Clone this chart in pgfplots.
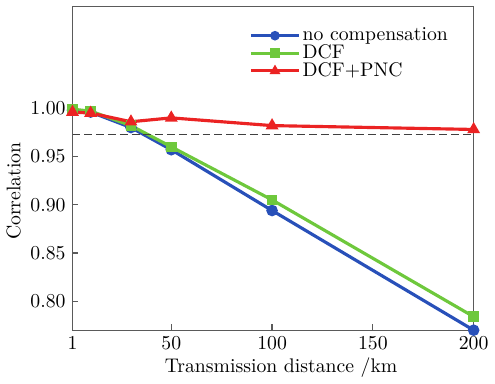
\documentclass[border=0pt]{standalone}
\usepackage{pgfplots}
\pgfplotsset{compat=1.18}
\definecolor{cblue}{RGB}{40,80,185}
\definecolor{cgreen}{RGB}{110,200,60}
\definecolor{cred}{RGB}{235,35,35}
\definecolor{axgray}{RGB}{90,90,90}
\begin{document}
\begin{tikzpicture}
\begin{axis}[
  scale only axis,
  width=203.5pt, height=164pt,
  xmin=1, xmax=200, ymin=0.77, ymax=1.105,
  xtick={1,50,100,150,200},
  ytick={0.80,0.85,0.90,0.95,1.00},
  yticklabel style={/pgf/number format/.cd,fixed,fixed zerofill,precision=2},
  xtick pos=bottom, ytick pos=left, tick align=inside,
  major tick length=3pt,
  axis line style={axgray, line width=0.6pt},
  every tick/.style={axgray, line width=0.6pt},
  xlabel={Transmission distance /km},
  ylabel={Correlation},
  xlabel style={at={(ticklabel cs:0.52)}, anchor=near ticklabel, yshift=3pt},
  ylabel style={at={(ticklabel cs:0.43)}, anchor=near ticklabel, yshift=-2pt},
  clip=false,
  legend cell align=left,
  legend style={at={(0.425,0.955)}, anchor=north west, draw=none, fill=none,
     row sep=-1.5pt, font=\normalsize, nodes={inner sep=1pt}},
  legend image code/.code={\draw[mark repeat=2,mark phase=2,mark size=1.6pt] plot coordinates {(0cm,0cm) (0.43cm,0cm) (0.86cm,0cm)};},
]
\addplot[cblue, line width=1.6pt, mark=*, mark size=2.1pt] coordinates {
 (1,0.998) (10,0.996) (30,0.980) (50,0.957) (100,0.894) (200,0.770)};
\addlegendentry{no compensation}
\addplot[cgreen, line width=1.6pt, mark=square*, mark size=1.9pt] coordinates {
 (1,0.999) (10,0.997) (30,0.982) (50,0.960) (100,0.905) (200,0.784)};
\addlegendentry{DCF}
\addplot[cred, line width=1.6pt, mark=triangle*, mark size=2.2pt] coordinates {
 (1,0.996) (10,0.995) (30,0.986) (50,0.990) (100,0.982) (200,0.978)};
\addlegendentry{DCF+PNC}
\addplot[black!75, dash pattern=on 4pt off 2pt, line width=0.7pt, forget plot] coordinates {(1,0.973) (200,0.973)};
\end{axis}
\path ([yshift=3.5pt]current axis.north);
\end{tikzpicture}
\end{document}
